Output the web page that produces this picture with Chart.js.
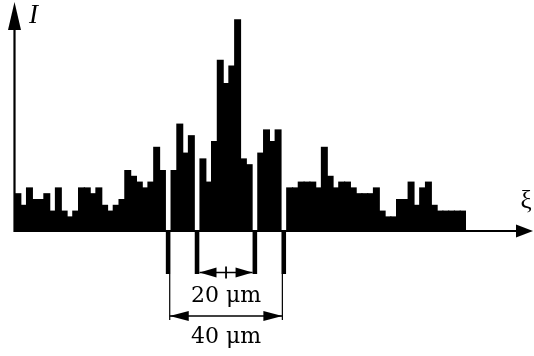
<!DOCTYPE html>
<html>
<head>
<meta charset="utf-8">
<script src="https://cdn.jsdelivr.net/npm/chart.js@4"></script>
<style>
  html, body { margin: 0; padding: 0; background: #fff; }
  #wrap { width: 534px; height: 356px; }
</style>
</head>
<body>
<div id="wrap"><canvas id="histChart"></canvas></div>
<script>
  // intensity counts per bin along xi (0 = cut lines)
  const counts = [7, 5, 8, 6, 6, 7, 4, 8, 4, 3, 4, 8, 8, 7, 8, 5, 4, 5, 6, 11,
                  10, 9, 8, 9, 15, 11, 0, 11, 19, 14, 17, 0, 13, 9, 16, 30, 26, 29, 37, 13,
                  12, 0, 14, 18, 16, 18, 0, 8, 8, 9, 9, 9, 8, 15, 10, 8, 9, 9, 8, 7,
                  7, 7, 8, 4, 3, 3, 6, 6, 9, 5, 8, 9, 5, 4, 4, 4, 4, 4];
  const bins = counts.map((c, i) => i);
  const cutBins = [26, 31, 41, 46];       // bins where the sample was cut
  const innerLabel = '20 μm';
  const outerLabel = '40 μm';
  const yLabel = 'I';
  const xLabel = 'ξ';

  const SERIF = '"DejaVu Serif", "Liberation Serif", serif';

  function arrowHead(ctx, x, y, dir, len, half) {
    // dir: 'left' | 'right' | 'up'
    ctx.beginPath();
    if (dir === 'right') {
      ctx.moveTo(x, y); ctx.lineTo(x - len, y - half); ctx.lineTo(x - len, y + half);
    } else if (dir === 'left') {
      ctx.moveTo(x, y); ctx.lineTo(x + len, y - half); ctx.lineTo(x + len, y + half);
    } else {
      ctx.moveTo(x, y); ctx.lineTo(x - half, y + len); ctx.lineTo(x + half, y + len);
    }
    ctx.closePath();
    ctx.fill();
  }

  const decorPlugin = {
    id: 'decor',
    afterDraw(chart) {
      const ctx = chart.ctx;
      const area = chart.chartArea;
      const xs = chart.scales.x;
      const binW = xs.getPixelForValue(1) - xs.getPixelForValue(0);
      const base = area.bottom;
      ctx.save();
      ctx.fillStyle = '#000';
      ctx.strokeStyle = '#000';

      // axes
      ctx.lineWidth = 2.2;
      ctx.beginPath();
      ctx.moveTo(area.left - 0.5, base - 1);
      ctx.lineTo(516, base - 1);
      ctx.stroke();
      arrowHead(ctx, 533, base - 1, 'right', 17, 6.5);
      ctx.beginPath();
      ctx.moveTo(area.left - 0.5, base);
      ctx.lineTo(area.left - 0.5, 28);
      ctx.stroke();
      arrowHead(ctx, area.left - 0.5, 2, 'up', 28, 6.5);

      // ticks under the cut bins
      const tickBottom = base + 42;
      const cx = cutBins.map(b => xs.getPixelForValue(b));
      cx.forEach(x => {
        ctx.fillRect(x - binW / 2 + 0.5, base - 1, binW - 1.2, tickBottom - base + 1);
      });

      // inner dimension (20 um)
      const y20 = tickBottom - 1.5;
      const l20 = cx[1] + binW / 2 - 0.5, r20 = cx[2] - binW / 2 + 0.5;
      const m20 = (l20 + r20) / 2;
      ctx.lineWidth = 1.6;
      ctx.beginPath();
      ctx.moveTo(l20, y20); ctx.lineTo(r20, y20); ctx.stroke();
      arrowHead(ctx, l20, y20, 'left', 17, 5);
      arrowHead(ctx, r20, y20, 'right', 17, 5);
      ctx.lineWidth = 1.8;
      ctx.beginPath();
      ctx.moveTo(m20, y20 - 6); ctx.lineTo(m20, y20 + 6); ctx.stroke();

      // outer dimension (40 um)
      const y40 = 316;
      const l40 = cx[0] + 1.5, r40 = cx[3] - 1.5;
      ctx.lineWidth = 1.2;
      ctx.beginPath();
      ctx.moveTo(l40, tickBottom); ctx.lineTo(l40, y40 + 4);
      ctx.moveTo(r40, tickBottom); ctx.lineTo(r40, y40 + 4);
      ctx.stroke();
      ctx.lineWidth = 1.6;
      ctx.beginPath();
      ctx.moveTo(l40, y40); ctx.lineTo(r40, y40); ctx.stroke();
      arrowHead(ctx, l40, y40, 'left', 19, 5);
      arrowHead(ctx, r40, y40, 'right', 19, 5);

      // labels
      ctx.textAlign = 'center';
      ctx.textBaseline = 'middle';
      ctx.font = '22px ' + SERIF;
      ctx.fillText(innerLabel, m20, 296);
      ctx.fillText(outerLabel, (l40 + r40) / 2, 337);
      ctx.font = 'italic 27px "Liberation Serif", serif';
      ctx.textAlign = 'left';
      ctx.fillText(yLabel, 29, 16);
      ctx.font = '25px "Liberation Serif", serif';
      ctx.textAlign = 'center';
      ctx.fillText(xLabel, 526, 201);
      ctx.restore();
    }
  };

  new Chart(document.getElementById('histChart'), {
    type: 'bar',
    data: {
      labels: bins,
      datasets: [{
        data: counts,
        backgroundColor: '#000',
        borderWidth: 0,
        inflateAmount: 0.6,
        categoryPercentage: 1.0,
        barPercentage: 1.0
      }]
    },
    options: {
      responsive: true,
      maintainAspectRatio: false,
      animation: false,
      layout: { padding: { top: 16, bottom: 124, left: 15, right: 68 } },
      plugins: { legend: { display: false }, tooltip: { enabled: false } },
      scales: {
        x: { display: false, grid: { display: false } },
        y: { display: false, min: 0.41, max: 37.65, grid: { display: false } }
      }
    },
    plugins: [decorPlugin]
  });
</script>
</body>
</html>
